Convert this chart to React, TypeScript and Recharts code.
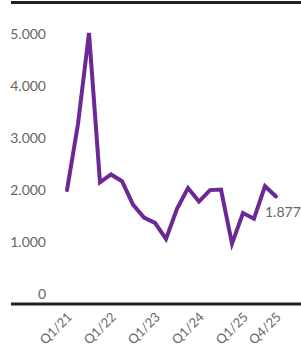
import React from "react";
import { LineChart, Line, XAxis, YAxis, LabelList } from "recharts";

const quarters = [
  "Q1/21", "Q2/21", "Q3/21", "Q4/21",
  "Q1/22", "Q2/22", "Q3/22", "Q4/22",
  "Q1/23", "Q2/23", "Q3/23", "Q4/23",
  "Q1/24", "Q2/24", "Q3/24", "Q4/24",
  "Q1/25", "Q2/25", "Q3/25", "Q4/25",
];

const values = [
  2000, 3270, 5020, 2150,
  2300, 2170, 1720, 1470,
  1370, 1060, 1640, 2040,
  1780, 2000, 2010, 970,
  1560, 1450, 2075, 1877,
];

const shownTicks = ["Q1/21", "Q1/22", "Q1/23", "Q1/24", "Q1/25", "Q4/25"];
const yTicks = [0, 1000, 2000, 3000, 4000, 5000];

const data = quarters.map((q, i) => ({ q, v: values[i] }));

const fmt = (n: number) => String(n).replace(/\B(?=(\d{3})+(?!\d))/g, ".");

const FONT = "Lato, 'Open Sans', sans-serif";
const PURPLE = "#6c2894";

const XTick = (props: any) => {
  const { x, y, payload } = props;
  if (!shownTicks.includes(payload.value)) return null;
  return (
    <g transform={`translate(${x + 3},${y + 3})`}>
      <text
        x={0}
        y={0}
        dy={4}
        textAnchor="end"
        transform="rotate(-45)"
        fill="#666"
        fontSize={13}
        fontFamily={FONT}
      >
        {payload.value}
      </text>
    </g>
  );
};

const YTick = (props: any) => {
  const { y, payload } = props;
  return (
    <text
      x={46}
      y={y}
      dy={5}
      textAnchor="end"
      fill="#666"
      fontSize={14}
      fontFamily={FONT}
    >
      {fmt(payload.value)}
    </text>
  );
};

const EndLabel = (props: any) => {
  const { x, y, index } = props;
  if (index !== values.length - 1) return null;
  return (
    <text
      x={x - 11}
      y={y + 21}
      textAnchor="start"
      fill="#666"
      fontSize={14}
      fontFamily={FONT}
    >
      {fmt(values[index])}
    </text>
  );
};

export default function App() {
  return (
    <div style={{ position: "absolute", left: 0, top: 0, width: 301, height: 347, background: "#fff" }}>
      <div
        style={{
          position: "absolute",
          left: 11,
          top: 1,
          width: 290,
          height: 3,
          background: "#222",
        }}
      />
      <LineChart
        width={301}
        height={347}
        data={data}
        margin={{ top: 33, right: 0, bottom: 0, left: 10 }}
      >
        <XAxis
          dataKey="q"
          height={43}
          interval={0}
          padding={{ left: 56, right: 25 }}
          axisLine={{ stroke: "#222", strokeWidth: 3 }}
          tickLine={false}
          tick={<XTick />}
        />
        <YAxis
          width={1}
          domain={[-190, 5000]}
          ticks={yTicks}
          interval={0}
          axisLine={false}
          tickLine={false}
          tick={<YTick />}
        />
        <Line
          type="linear"
          dataKey="v"
          stroke={PURPLE}
          strokeWidth={4}
          strokeLinecap="round"
          dot={false}
          activeDot={false}
          isAnimationActive={false}
        >
          <LabelList dataKey="v" content={<EndLabel />} />
        </Line>
      </LineChart>
    </div>
  );
}
